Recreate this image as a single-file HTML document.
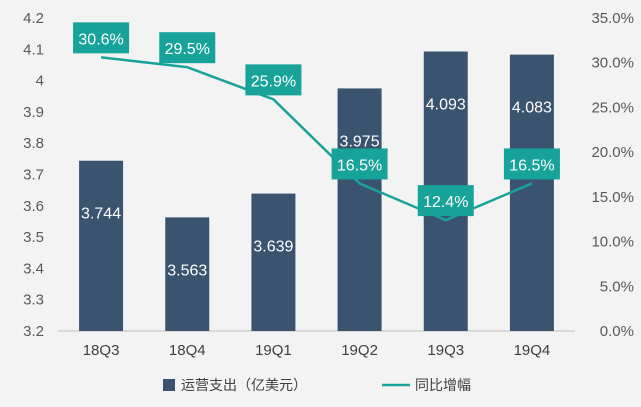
<!DOCTYPE html>
<html><head><meta charset="utf-8">
<style>
html,body{margin:0;padding:0;background:#f3f3f3;}
svg{display:block;font-family:"Liberation Sans","Noto Sans CJK SC",sans-serif;}
</style></head>
<body>
<svg id="chart" width="641" height="407" viewBox="0 0 641 407" xmlns="http://www.w3.org/2000/svg">
<rect width="641" height="407" fill="#f3f3f3"/>
<g id="g"></g>
<g>
<rect x="163" y="379" width="12" height="12" fill="#3a5470"/>
<text x="181" y="390" font-size="14" fill="#404040">运营支出（亿美元）</text>
<line x1="382" y1="385" x2="410" y2="385" stroke="#17a399" stroke-width="2.5"/>
<text x="415" y="390" font-size="14" fill="#404040">同比增幅</text>
</g>
</svg>
<script>
const categories=["18Q3","18Q4","19Q1","19Q2","19Q3","19Q4"];
const expenses=[3.744,3.563,3.639,3.975,4.093,4.083];
const growth=[30.6,29.5,25.9,16.5,12.4,16.5];
const leftTicks=["3.2","3.3","3.4","3.5","3.6","3.7","3.8","3.9","4","4.1","4.2"];
const rightTicks=["0.0%","5.0%","10.0%","15.0%","20.0%","25.0%","30.0%","35.0%"];

const NS="http://www.w3.org/2000/svg";
const gRoot=document.getElementById('g');
const plotTop=18,plotBot=331,plotLeft=58,plotRight=575;
const yL=v=>plotBot-(v-3.2)/1.0*(plotBot-plotTop);
const yR=v=>plotBot-v/35*(plotBot-plotTop);
const band=(plotRight-plotLeft)/categories.length;
const xC=i=>plotLeft+band*(i+0.5);
function mk(tag,attrs,txt){const e=document.createElementNS(NS,tag);for(const k in attrs)e.setAttribute(k,attrs[k]);if(txt!==undefined)e.textContent=txt;gRoot.appendChild(e);return e;}

leftTicks.forEach(t=>{
  const e=mk('text',{x:44,y:yL(parseFloat(t))+5,'text-anchor':'end','font-size':15,fill:'#595959'},t);
  
  
});
rightTicks.forEach(t=>{
  const e=mk('text',{x:634,y:yR(parseFloat(t))+5,'text-anchor':'end','font-size':15,fill:'#595959'},t);
  
  
});
const ax=mk('line',{x1:plotLeft,y1:plotBot,x2:plotRight,y2:plotBot,stroke:'#bfbfbf','stroke-width':1});



categories.forEach((c,i)=>{
  const x=xC(i),y=yL(expenses[i]);
  const h=plotBot-y;
  const b=mk('rect',{x:x-22,y:y,width:44,height:h,fill:'#3a5470'});
  
  
  const l=mk('text',{x:x,y:y+52+6,'text-anchor':'middle','font-size':16,fill:'#ffffff'},expenses[i].toFixed(3));
  
  
  const xl=mk('text',{x:x,y:plotBot+24,'text-anchor':'middle','font-size':15,fill:'#404040'},c);
  
  
});

const pts=growth.map((v,i)=>xC(i)+','+yR(v)).join(' ');
const pl=mk('polyline',{points:pts,fill:'none',stroke:'#17a399','stroke-width':2.5});



growth.forEach((v,i)=>{
  const x=xC(i),y=yR(v);
  const r=mk('rect',{x:x-28,y:y-35,width:56,height:31,fill:'#17a399'});
  
  
  const t=mk('text',{x:x,y:y-13,'text-anchor':'middle','font-size':16,fill:'#ffffff'},v.toFixed(1)+'%');
  
  
});
</script>
</body></html>
